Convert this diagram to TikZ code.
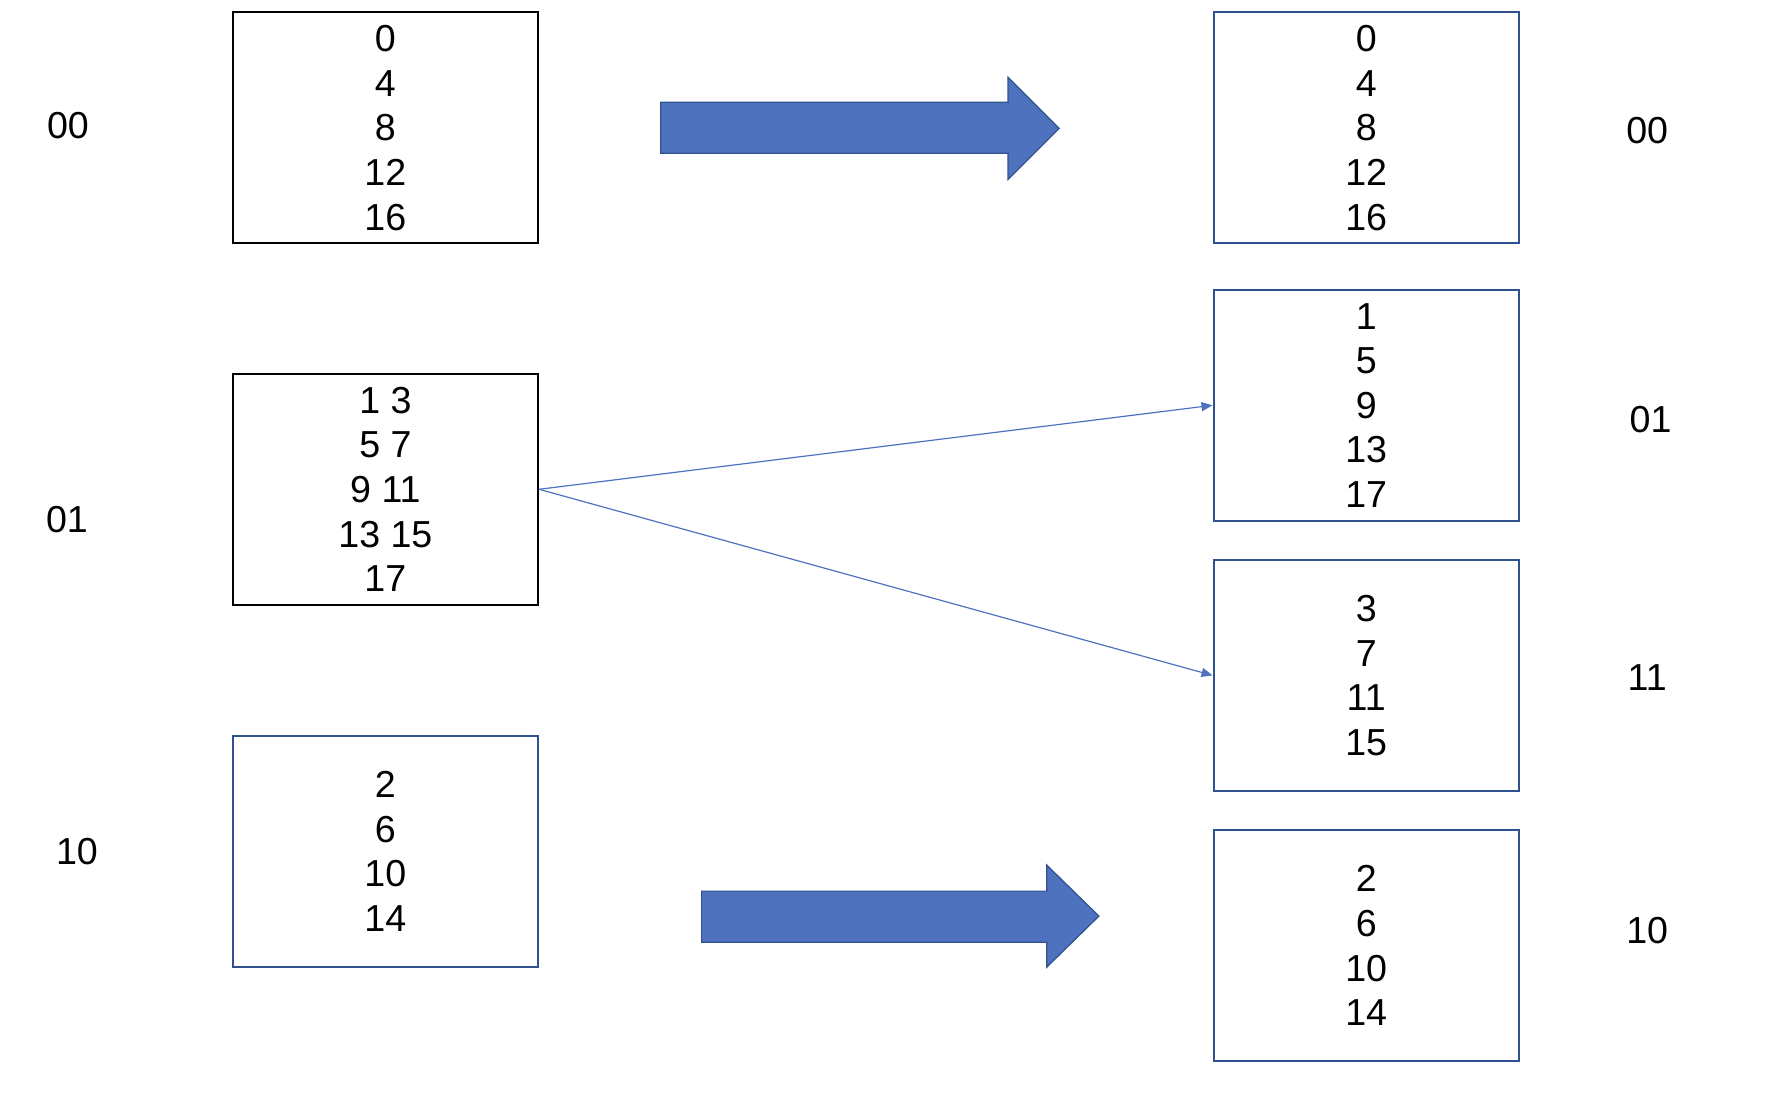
\documentclass[tikz,border=0pt]{standalone}
\usepackage{fontspec}
\setmainfont{Liberation Sans}
\usepackage{xcolor}
\usepackage{tikz}
\usetikzlibrary{arrows.meta}
\definecolor{bkblue}{RGB}{47,82,143}
\definecolor{bkfill}{RGB}{78,114,189}

\begin{document}
\begin{tikzpicture}[
  x=0.5pt, y=-0.5pt,
  bucket/.style={rectangle, draw=black, line width=1pt, minimum width=152.7pt,
    minimum height=115.2pt, align=center, inner sep=0pt, text depth=-1pt,
    font=\fontsize{18.8}{22.3}\selectfont},
  newbucket/.style={bucket, draw=bkblue},
  tag/.style={inner sep=0pt, font=\fontsize{18.8}{22.3}\selectfont},
  bigarrow/.style={fill=bkfill, draw=bkblue, line width=0.6pt, line join=miter},
  split/.style={-{Triangle[length=5.5pt, width=4.5pt]}, bkfill, line width=0.6pt}]
\useasboundingbox (0,0) rectangle (1780,1096);

% buckets before the split
\node[bucket] (b00) at (385.4,127.7) {0\\4\\8\\12\\16};
\node[bucket] (b01) at (385.4,489.3) {1 3\\5 7\\9 11\\13 15\\17};
\node[newbucket] (b10) at (385.4,851.4) {2\\6\\10\\14};
\node[tag] (t00) at (68,125.9) {00};
\node[tag] (t01) at (67,519.8) {01};
\node[tag] (t10) at (77,851.3) {10};

% buckets after the split
\node[newbucket] (n00) at (1366.2,127.7) {0\\4\\8\\12\\16};
\node[newbucket] (n01) at (1366.2,405.3) {1\\5\\9\\13\\17};
\node[newbucket] (n11) at (1366.2,675.4) {3\\7\\11\\15};
\node[newbucket] (n10) at (1366.2,945.6) {2\\6\\10\\14};
\node[tag] (u00) at (1647.2,130.4) {00};
\node[tag] (u01) at (1650.6,419.9) {01};
\node[tag] (u11) at (1647.2,677.6) {11};
\node[tag] (u10) at (1647.2,930.7) {10};

% unchanged buckets
\filldraw[bigarrow] (660.7,102.2) -- (1008,102.2) -- (1008,77.2) -- (1059.1,128.3)
  -- (1008,179.4) -- (1008,153.3) -- (660.7,153.3) -- cycle;
\filldraw[bigarrow] (701.6,891.1) -- (1046.7,891.1) -- (1046.7,865) -- (1098.9,916.1)
  -- (1046.7,967.2) -- (1046.7,942.2) -- (701.6,942.2) -- cycle;

\draw[split] (b01.east) -- (n01.west);
\draw[split] (b01.east) -- (n11.west);
\end{tikzpicture}
\end{document}
